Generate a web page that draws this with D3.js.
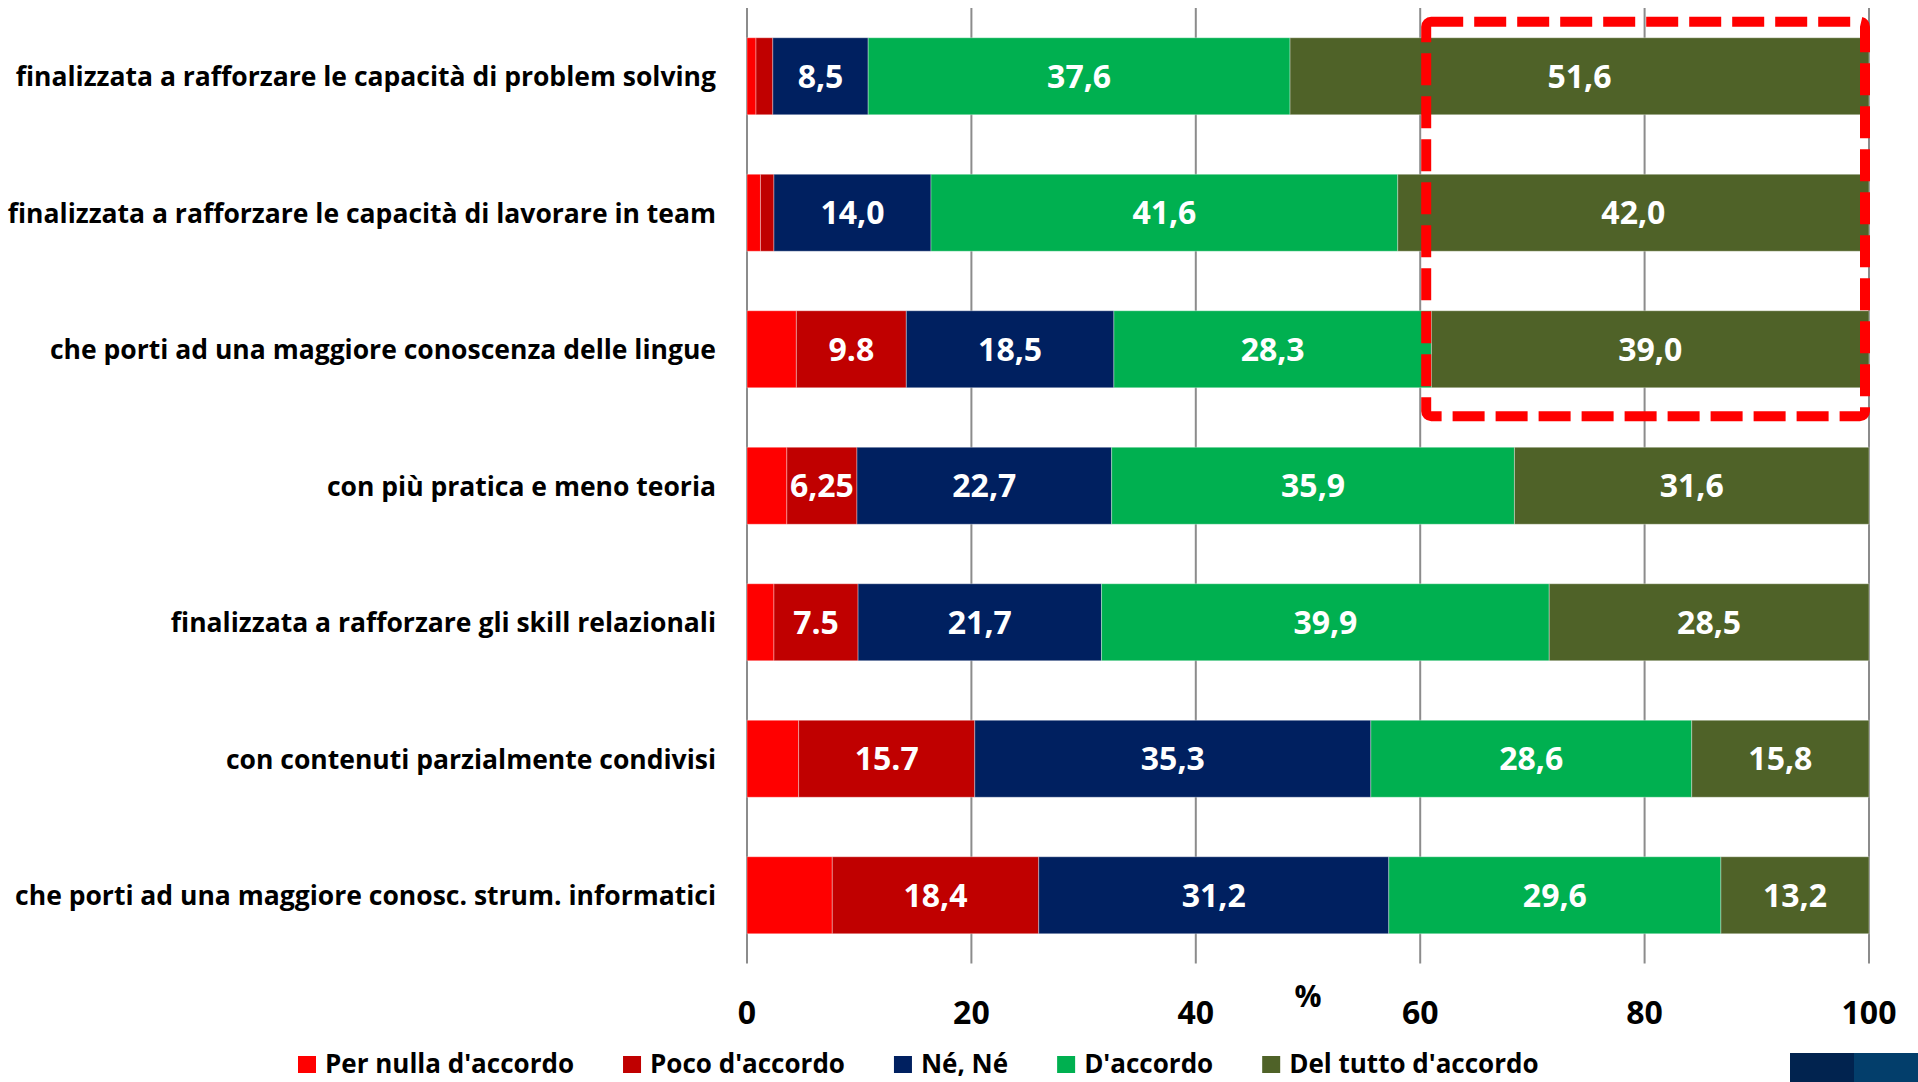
<!DOCTYPE html>
<html>
<head>
<meta charset="utf-8">
<script src="https://cdn.jsdelivr.net/npm/d3@7"></script>
<style>
  body { margin: 0; background: #fff; }
  text { font-family: "Open Sans", sans-serif; font-weight: bold; }
</style>
</head>
<body>
<div id="visual"></div>
<script>
// categories, top to bottom
var categories = [
  "finalizzata a rafforzare le capacità di problem solving",
  "finalizzata a rafforzare le capacità di lavorare in team",
  "che porti ad una maggiore conoscenza delle lingue",
  "con più pratica e meno teoria",
  "finalizzata a rafforzare gli skill relazionali",
  "con contenuti parzialmente condivisi",
  "che porti ad una maggiore conosc. strum. informatici"
];

var seriesNames = ["Per nulla d'accordo", "Poco d'accordo", "Né, Né", "D'accordo", "Del tutto d'accordo"];
var seriesColors = ["#ff0000", "#c00000", "#002060", "#00b050", "#4f6228"];

// values per series (same order as categories)
var perNulla  = [0.8, 1.2, 4.4, 3.55, 2.4, 4.6, 7.6];
var poco      = [1.5, 1.2, 9.8, 6.25, 7.5, 15.7, 18.4];
var neNe      = [8.5, 14.0, 18.5, 22.7, 21.7, 35.3, 31.2];
var accordo   = [37.6, 41.6, 28.3, 35.9, 39.9, 28.6, 29.6];
var delTutto  = [51.6, 42.0, 39.0, 31.6, 28.5, 15.8, 13.2];

// label text as printed on the bars (null = no label)
var perNullaLabels = [null, null, null, null, null, null, null];
var pocoLabels     = [null, null, "9.8", "6,25", "7.5", "15.7", "18,4"];
var neNeLabels     = ["8,5", "14,0", "18,5", "22,7", "21,7", "35,3", "31,2"];
var accordoLabels  = ["37,6", "41,6", "28,3", "35,9", "39,9", "28,6", "29,6"];
var delTuttoLabels = ["51,6", "42,0", "39,0", "31,6", "28,5", "15,8", "13,2"];

var xTicks = [0, 20, 40, 60, 80, 100];

var seriesValues = [perNulla, poco, neNe, accordo, delTutto];
var seriesLabels = [perNullaLabels, pocoLabels, neNeLabels, accordoLabels, delTuttoLabels];

var width = 1918, height = 1082;
var margin = {top: 8, left: 747, right: 49, bottom: 119};

var svg = d3.select("#visual")
  .append("svg")
    .attr("width", width)
    .attr("height", height);

var x = d3.scaleLinear()
  .domain([0, 100])
  .range([margin.left, width - margin.right]);

var y = d3.scaleBand()
  .domain(categories)
  .range([margin.top, height - margin.bottom + 0.5])
  .paddingInner(0.436)
  .paddingOuter(0.218);

// gridlines
svg.append("g")
  .selectAll("line")
  .data(xTicks)
  .enter()
  .append("line")
    .attr("x1", function(d) { return x(d); })
    .attr("x2", function(d) { return x(d); })
    .attr("y1", margin.top)
    .attr("y2", height - margin.bottom + 0.5)
    .attr("stroke", "#8c8c8c")
    .attr("stroke-width", 2);

// build stacked rows
var rows = categories.map(function(c, i) {
  var o = {cat: c};
  seriesNames.forEach(function(s, j) { o[s] = seriesValues[j][i]; });
  return o;
});
var stacked = d3.stack().keys(seriesNames)(rows);

var layers = svg.append("g")
  .selectAll("g")
  .data(stacked)
  .enter()
  .append("g")
    .attr("fill", function(d, j) { return seriesColors[j]; });

layers.selectAll("rect")
  .data(function(d) { return d; })
  .enter()
  .append("rect")
    .attr("x", function(d) { return x(d[0]); })
    .attr("y", function(d) { return y(d.data.cat); })
    .attr("width", function(d) { return x(d[1]) - x(d[0]); })
    .attr("height", y.bandwidth())
    .attr("stroke", "rgba(255,255,255,0.35)")
    .attr("stroke-width", 1);

// value labels
layers.selectAll("text")
  .data(function(d, j) { return d.map(function(p, i) { return {p: p, label: seriesLabels[j][i]}; }); })
  .enter()
  .filter(function(d) { return d.label != null; })
  .append("text")
    .attr("x", function(d) { return (x(d.p[0]) + x(d.p[1])) / 2; })
    .attr("y", function(d) { return y(d.p.data.cat) + y.bandwidth() / 2; })
    .attr("dy", "0.36em")
    .attr("text-anchor", "middle")
    .attr("fill", "#fff")
    .style("font-size", "32px")
    .text(function(d) { return d.label; });

// category labels
svg.append("g")
  .selectAll("text")
  .data(categories)
  .enter()
  .append("text")
    .attr("x", x(0) - 31)
    .attr("y", function(d) { return y(d) + y.bandwidth() / 2; })
    .attr("dy", "0.38em")
    .attr("text-anchor", "end")
    .attr("fill", "#000")
    .style("font-size", "26.5px")
    .text(function(d) { return d; });

// x tick labels
svg.append("g")
  .selectAll("text")
  .data(xTicks)
  .enter()
  .append("text")
    .attr("x", function(d) { return x(d); })
    .attr("y", 1012)
    .attr("dy", "0.36em")
    .attr("text-anchor", "middle")
    .attr("fill", "#000")
    .style("font-size", "32px")
    .text(function(d) { return d; });

svg.append("text")
  .attr("x", x(50))
  .attr("y", 996)
  .attr("dy", "0.36em")
  .attr("text-anchor", "middle")
  .style("font-size", "30px")
  .text("%");

// dashed highlight box
var hiTop = y(categories[0]) - 16;
var hiBottom = y(categories[2]) + y.step() - 31;
svg.append("rect")
  .attr("x", x(60) + 6)
  .attr("y", hiTop)
  .attr("width", x(100) - 4 - (x(60) + 6))
  .attr("height", hiBottom - hiTop)
  .attr("rx", 5)
  .attr("fill", "none")
  .attr("stroke", "#ff0000")
  .attr("stroke-width", 10)
  .attr("stroke-dasharray", "32,11");

// legend
var legend = svg.append("g").attr("transform", "translate(298,1064)");
var lx = 0;
seriesNames.forEach(function(s, j) {
  var g = legend.append("g").attr("transform", "translate(" + lx + ",0)");
  g.append("rect")
    .attr("x", 0).attr("y", -8)
    .attr("width", 18).attr("height", 17)
    .attr("fill", seriesColors[j]);
  var t = g.append("text")
    .attr("x", 27)
    .attr("dy", "0.35em")
    .style("font-size", "26px")
    .text(s);
  lx += 27 + t.node().getComputedTextLength() + 49;
});

// corner decoration
svg.append("rect").attr("x", 1790).attr("y", 1053).attr("width", 64).attr("height", 29).attr("fill", "#01234f");
svg.append("rect").attr("x", 1854).attr("y", 1053).attr("width", 64).attr("height", 29).attr("fill", "#033e6b");
</script>
</body>
</html>
